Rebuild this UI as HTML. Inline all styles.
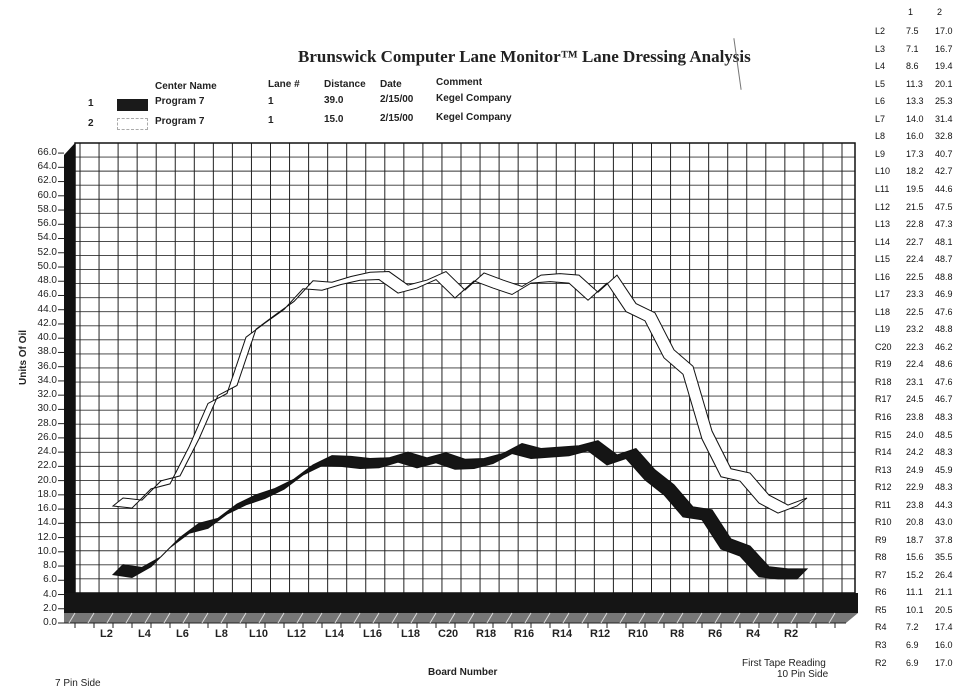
<!DOCTYPE html>
<html><head><meta charset="utf-8">
<style>
body{margin:0;background:#fff;width:970px;height:691px;overflow:hidden;font-family:"Liberation Sans",sans-serif;position:relative}
.a{position:absolute;white-space:nowrap}
.t{position:absolute;font-size:9px;color:#111}
</style></head><body>
<div class="a" style="left:298px;top:47px;font-family:'Liberation Serif',serif;font-weight:bold;font-size:17px;color:#222">Brunswick Computer Lane Monitor™ Lane Dressing Analysis</div>
<div class="a" style="left:737px;top:38px;width:1px;height:52px;background:#777;transform:rotate(-8deg)"></div>
<div class="a" style="font-size:10px;font-weight:bold;color:#222;left:0;top:0">
<span class="a" style="left:155px;top:81px">Center Name</span>
<span class="a" style="left:268px;top:79px">Lane #</span>
<span class="a" style="left:324px;top:79px">Distance</span>
<span class="a" style="left:380px;top:79px">Date</span>
<span class="a" style="left:436px;top:77px">Comment</span>
<span class="a" style="left:88px;top:98px">1</span>
<span class="a" style="left:155px;top:96px">Program 7</span>
<span class="a" style="left:268px;top:96px">1</span>
<span class="a" style="left:324px;top:95px">39.0</span>
<span class="a" style="left:380px;top:94px">2/15/00</span>
<span class="a" style="left:436px;top:93px">Kegel Company</span>
<span class="a" style="left:88px;top:118px">2</span>
<span class="a" style="left:155px;top:116px">Program 7</span>
<span class="a" style="left:268px;top:115px">1</span>
<span class="a" style="left:324px;top:114px">15.0</span>
<span class="a" style="left:380px;top:113px">2/15/00</span>
<span class="a" style="left:436px;top:112px">Kegel Company</span>
</div>
<div class="a" style="left:117px;top:99px;width:31px;height:12px;background:#1a1a1a"></div>
<div class="a" style="left:117px;top:118px;width:31px;height:12px;border:1px dashed #aaa;box-sizing:border-box"></div>

<svg class="a" style="left:0;top:0" width="970" height="691" id="s"></svg>

<div class="a" style="font-size:10px;font-weight:bold;color:#222;left:0;top:0">
<span class="a" style="left:18px;top:385px;transform:rotate(-90deg);transform-origin:left top">Units Of Oil</span>
<span class="a" style="left:428px;top:667px">Board Number</span>
<span class="a" style="left:55px;top:678px;font-weight:normal">7 Pin Side</span>
<span class="a" style="left:742px;top:658px;font-weight:normal">First Tape Reading</span>
<span class="a" style="left:777px;top:669px;font-weight:normal">10 Pin Side</span>
</div>
<div class="a" style="font-size:11px;font-weight:bold;color:#222;left:0;top:0">
<span class="a" style="left:100px;top:628px">L2</span><span class="a" style="left:138px;top:628px">L4</span><span class="a" style="left:176px;top:628px">L6</span><span class="a" style="left:215px;top:628px">L8</span><span class="a" style="left:249px;top:628px">L10</span><span class="a" style="left:287px;top:628px">L12</span><span class="a" style="left:325px;top:628px">L14</span><span class="a" style="left:363px;top:628px">L16</span><span class="a" style="left:401px;top:628px">L18</span><span class="a" style="left:438px;top:628px">C20</span><span class="a" style="left:476px;top:628px">R18</span><span class="a" style="left:514px;top:628px">R16</span><span class="a" style="left:552px;top:628px">R14</span><span class="a" style="left:590px;top:628px">R12</span><span class="a" style="left:628px;top:628px">R10</span><span class="a" style="left:670px;top:628px">R8</span><span class="a" style="left:708px;top:628px">R6</span><span class="a" style="left:746px;top:628px">R4</span><span class="a" style="left:784px;top:628px">R2</span>
</div>
<div class="a" style="font-size:10px;color:#222;left:0;top:0;width:57px;text-align:right" id="yl">
<span class="a" style="right:0;top:147px">66.0</span><span class="a" style="right:0;top:161px">64.0</span><span class="a" style="right:0;top:175px">62.0</span><span class="a" style="right:0;top:190px">60.0</span><span class="a" style="right:0;top:204px">58.0</span><span class="a" style="right:0;top:218px">56.0</span><span class="a" style="right:0;top:232px">54.0</span><span class="a" style="right:0;top:247px">52.0</span><span class="a" style="right:0;top:261px">50.0</span><span class="a" style="right:0;top:275px">48.0</span><span class="a" style="right:0;top:289px">46.0</span><span class="a" style="right:0;top:304px">44.0</span><span class="a" style="right:0;top:318px">42.0</span><span class="a" style="right:0;top:332px">40.0</span><span class="a" style="right:0;top:346px">38.0</span><span class="a" style="right:0;top:361px">36.0</span><span class="a" style="right:0;top:375px">34.0</span><span class="a" style="right:0;top:389px">32.0</span><span class="a" style="right:0;top:403px">30.0</span><span class="a" style="right:0;top:418px">28.0</span><span class="a" style="right:0;top:432px">26.0</span><span class="a" style="right:0;top:446px">24.0</span><span class="a" style="right:0;top:460px">22.0</span><span class="a" style="right:0;top:475px">20.0</span><span class="a" style="right:0;top:489px">18.0</span><span class="a" style="right:0;top:503px">16.0</span><span class="a" style="right:0;top:517px">14.0</span><span class="a" style="right:0;top:532px">12.0</span><span class="a" style="right:0;top:546px">10.0</span><span class="a" style="right:0;top:560px">8.0</span><span class="a" style="right:0;top:574px">6.0</span><span class="a" style="right:0;top:589px">4.0</span><span class="a" style="right:0;top:603px">2.0</span><span class="a" style="right:0;top:617px">0.0</span>
</div>
<div id="tb">
<span class="t" style="left:908px;top:7px">1</span><span class="t" style="left:937px;top:7px">2</span>
<span class="t" style="left:875px;top:26px">L2</span><span class="t" style="left:906px;top:26px">7.5</span><span class="t" style="left:935px;top:26px">17.0</span>
<span class="t" style="left:875px;top:44px">L3</span><span class="t" style="left:906px;top:44px">7.1</span><span class="t" style="left:935px;top:44px">16.7</span>
<span class="t" style="left:875px;top:61px">L4</span><span class="t" style="left:906px;top:61px">8.6</span><span class="t" style="left:935px;top:61px">19.4</span>
<span class="t" style="left:875px;top:79px">L5</span><span class="t" style="left:906px;top:79px">11.3</span><span class="t" style="left:935px;top:79px">20.1</span>
<span class="t" style="left:875px;top:96px">L6</span><span class="t" style="left:906px;top:96px">13.3</span><span class="t" style="left:935px;top:96px">25.3</span>
<span class="t" style="left:875px;top:114px">L7</span><span class="t" style="left:906px;top:114px">14.0</span><span class="t" style="left:935px;top:114px">31.4</span>
<span class="t" style="left:875px;top:131px">L8</span><span class="t" style="left:906px;top:131px">16.0</span><span class="t" style="left:935px;top:131px">32.8</span>
<span class="t" style="left:875px;top:149px">L9</span><span class="t" style="left:906px;top:149px">17.3</span><span class="t" style="left:935px;top:149px">40.7</span>
<span class="t" style="left:875px;top:166px">L10</span><span class="t" style="left:906px;top:166px">18.2</span><span class="t" style="left:935px;top:166px">42.7</span>
<span class="t" style="left:875px;top:184px">L11</span><span class="t" style="left:906px;top:184px">19.5</span><span class="t" style="left:935px;top:184px">44.6</span>
<span class="t" style="left:875px;top:202px">L12</span><span class="t" style="left:906px;top:202px">21.5</span><span class="t" style="left:935px;top:202px">47.5</span>
<span class="t" style="left:875px;top:219px">L13</span><span class="t" style="left:906px;top:219px">22.8</span><span class="t" style="left:935px;top:219px">47.3</span>
<span class="t" style="left:875px;top:237px">L14</span><span class="t" style="left:906px;top:237px">22.7</span><span class="t" style="left:935px;top:237px">48.1</span>
<span class="t" style="left:875px;top:254px">L15</span><span class="t" style="left:906px;top:254px">22.4</span><span class="t" style="left:935px;top:254px">48.7</span>
<span class="t" style="left:875px;top:272px">L16</span><span class="t" style="left:906px;top:272px">22.5</span><span class="t" style="left:935px;top:272px">48.8</span>
<span class="t" style="left:875px;top:289px">L17</span><span class="t" style="left:906px;top:289px">23.3</span><span class="t" style="left:935px;top:289px">46.9</span>
<span class="t" style="left:875px;top:307px">L18</span><span class="t" style="left:906px;top:307px">22.5</span><span class="t" style="left:935px;top:307px">47.6</span>
<span class="t" style="left:875px;top:324px">L19</span><span class="t" style="left:906px;top:324px">23.2</span><span class="t" style="left:935px;top:324px">48.8</span>
<span class="t" style="left:875px;top:342px">C20</span><span class="t" style="left:906px;top:342px">22.3</span><span class="t" style="left:935px;top:342px">46.2</span>
<span class="t" style="left:875px;top:359px">R19</span><span class="t" style="left:906px;top:359px">22.4</span><span class="t" style="left:935px;top:359px">48.6</span>
<span class="t" style="left:875px;top:377px">R18</span><span class="t" style="left:906px;top:377px">23.1</span><span class="t" style="left:935px;top:377px">47.6</span>
<span class="t" style="left:875px;top:394px">R17</span><span class="t" style="left:906px;top:394px">24.5</span><span class="t" style="left:935px;top:394px">46.7</span>
<span class="t" style="left:875px;top:412px">R16</span><span class="t" style="left:906px;top:412px">23.8</span><span class="t" style="left:935px;top:412px">48.3</span>
<span class="t" style="left:875px;top:430px">R15</span><span class="t" style="left:906px;top:430px">24.0</span><span class="t" style="left:935px;top:430px">48.5</span>
<span class="t" style="left:875px;top:447px">R14</span><span class="t" style="left:906px;top:447px">24.2</span><span class="t" style="left:935px;top:447px">48.3</span>
<span class="t" style="left:875px;top:465px">R13</span><span class="t" style="left:906px;top:465px">24.9</span><span class="t" style="left:935px;top:465px">45.9</span>
<span class="t" style="left:875px;top:482px">R12</span><span class="t" style="left:906px;top:482px">22.9</span><span class="t" style="left:935px;top:482px">48.3</span>
<span class="t" style="left:875px;top:500px">R11</span><span class="t" style="left:906px;top:500px">23.8</span><span class="t" style="left:935px;top:500px">44.3</span>
<span class="t" style="left:875px;top:517px">R10</span><span class="t" style="left:906px;top:517px">20.8</span><span class="t" style="left:935px;top:517px">43.0</span>
<span class="t" style="left:875px;top:535px">R9</span><span class="t" style="left:906px;top:535px">18.7</span><span class="t" style="left:935px;top:535px">37.8</span>
<span class="t" style="left:875px;top:552px">R8</span><span class="t" style="left:906px;top:552px">15.6</span><span class="t" style="left:935px;top:552px">35.5</span>
<span class="t" style="left:875px;top:570px">R7</span><span class="t" style="left:906px;top:570px">15.2</span><span class="t" style="left:935px;top:570px">26.4</span>
<span class="t" style="left:875px;top:587px">R6</span><span class="t" style="left:906px;top:587px">11.1</span><span class="t" style="left:935px;top:587px">21.1</span>
<span class="t" style="left:875px;top:605px">R5</span><span class="t" style="left:906px;top:605px">10.1</span><span class="t" style="left:935px;top:605px">20.5</span>
<span class="t" style="left:875px;top:622px">R4</span><span class="t" style="left:906px;top:622px">7.2</span><span class="t" style="left:935px;top:622px">17.4</span>
<span class="t" style="left:875px;top:640px">R3</span><span class="t" style="left:906px;top:640px">6.9</span><span class="t" style="left:935px;top:640px">16.0</span>
<span class="t" style="left:875px;top:658px">R2</span><span class="t" style="left:906px;top:658px">6.9</span><span class="t" style="left:935px;top:658px">17.0</span>
</div>
<script>
var s=document.getElementById('s'),h='';
function Y(v){return 623-v*7.12;}
for(var k=0;k<=32;k++){var y=143+k*14.06;h+='<line x1="75" y1="'+y+'" x2="855" y2="'+y+'" stroke="#333" stroke-width="0.9"/>';}
for(var x=80;x<855;x+=19.05){h+='<line x1="'+x+'" y1="143" x2="'+x+'" y2="593" stroke="#222" stroke-width="1"/>';}
h+='<rect x="75" y="143" width="780" height="450" fill="none" stroke="#111" stroke-width="1.5"/>';
h+='<polygon points="64,155 75,143 75,593 64,605" fill="#111"/>';
h+='<polygon points="64,593 858,593 858,613 64,613" fill="#151515"/>';
h+='<polygon points="64,613 858,613 846,623 64,623" fill="#777"/>';
h+='<line x1="64" y1="623" x2="846" y2="623" stroke="#222"/>';
for(var x=75;x<846;x+=19){h+='<line x1="'+x+'" y1="613" x2="'+(x-6)+'" y2="623" stroke="#ddd" stroke-width="1"/><line x1="'+x+'" y1="623" x2="'+x+'" y2="628" stroke="#222"/>';}
for(var k=0;k<=33;k++){var y=Y(k*2);h+='<line x1="58" y1="'+y+'" x2="64" y2="'+y+'" stroke="#222"/>';}
var a=[7.5,7.1,8.6,11.3,13.3,14.0,16.0,17.3,18.2,19.5,21.5,22.8,22.7,22.4,22.5,23.3,22.5,23.2,22.3,22.4,23.1,24.5,23.8,24.0,24.2,24.9,22.9,23.8,20.8,18.7,15.6,15.2,11.1,10.1,7.2,6.9,6.9];
var b=[17.0,16.7,19.4,20.1,25.3,31.4,32.8,40.7,42.7,44.6,47.5,47.3,48.1,48.7,48.8,46.9,47.6,48.8,46.2,48.6,47.6,46.7,48.3,48.5,48.3,45.9,48.3,44.3,43.0,37.8,35.5,26.4,21.1,20.5,17.4,16.0,17.0];
function rib(d,fill,t){var f=[],bk=[];for(var i=0;i<d.length;i++){var x=113+19.0*i,y=Y(d[i]);f.push(x+','+(y+t));bk.unshift((x+10)+','+(y-t));}
return '<polygon points="'+f.join(' ')+' '+bk.join(' ')+'" fill="'+fill+'" stroke="#111" stroke-width="1"/>';}
h+=rib(b,'#fff',4)+rib(a,'#151515',5);
s.innerHTML=h;
</script>
</body></html>
